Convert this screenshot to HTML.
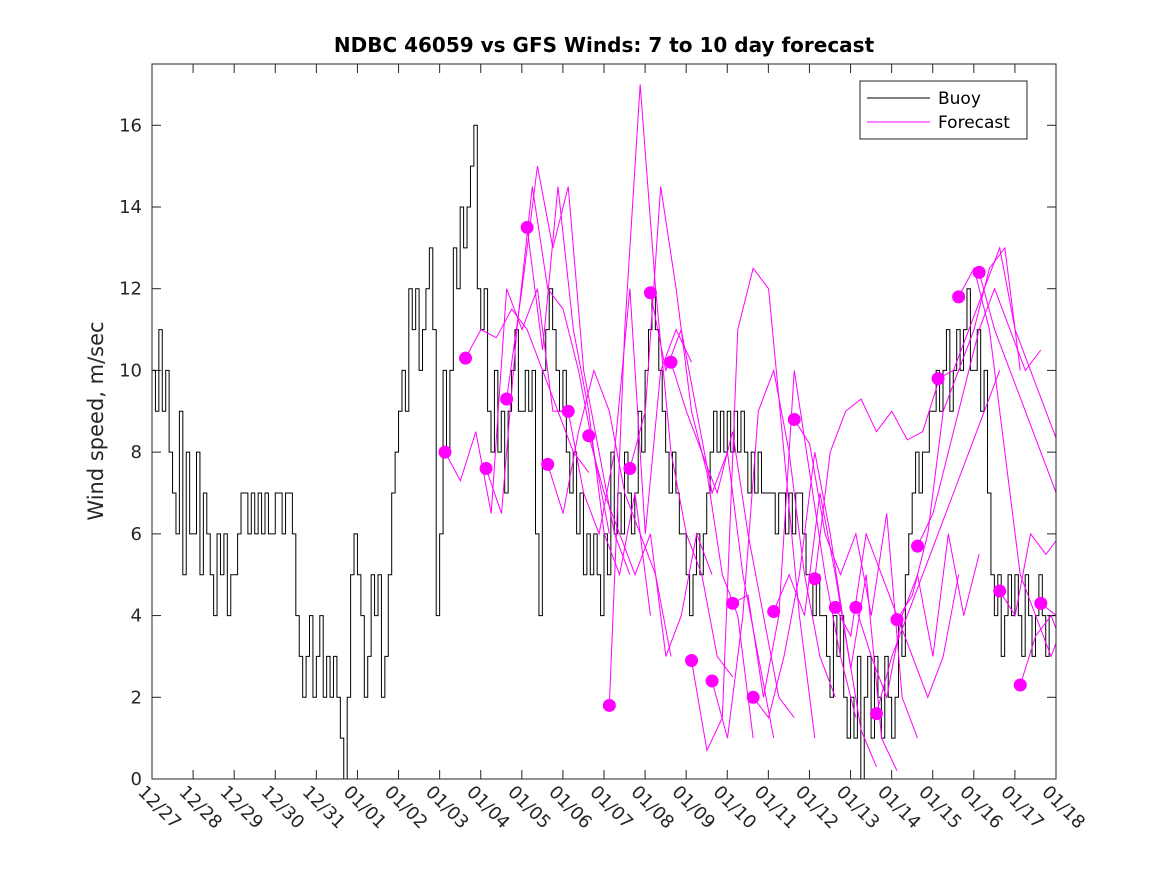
<!DOCTYPE html>
<html><head><meta charset="utf-8"><style>
html,body{margin:0;padding:0;background:#fff;}
svg{display:block;font-family:"DejaVu Sans","Liberation Sans",sans-serif;}
</style></head><body>
<svg id="chart" width="1167" height="875" viewBox="0 0 1167 875">
<defs><clipPath id="clip"><rect x="152" y="64" width="904" height="715"/></clipPath></defs>
<rect x="0" y="0" width="1167" height="875" fill="#fff"/>
<text x="604" y="52" text-anchor="middle" font-size="20" font-weight="bold">NDBC 46059 vs GFS Winds: 7 to 10 day forecast</text>
<text transform="translate(103,421) rotate(-90)" text-anchor="middle" font-size="21" fill="#262626">Wind speed, m/sec</text>
<g id="axes"></g>
<g id="buoy" clip-path="url(#clip)"></g>
<g id="fc" clip-path="url(#clip)"></g>
<rect x="152" y="64" width="904" height="715" fill="none" stroke="#262626" stroke-width="1"/>
<g>
<rect x="860" y="81" width="167" height="58" fill="#fff" stroke="#262626"/>
<line x1="867" y1="98" x2="930" y2="98" stroke="#000"/>
<text x="938" y="104" font-size="17">Buoy</text>
<line x1="867" y1="122" x2="930" y2="122" stroke="#ff00ff"/>
<text x="938" y="128" font-size="17">Forecast</text>
</g>
</svg>
<script>
const dateLabels=["12/27","12/28","12/29","12/30","12/31","01/01","01/02","01/03","01/04","01/05","01/06","01/07","01/08","01/09","01/10","01/11","01/12","01/13","01/14","01/15","01/16","01/17","01/18"];
const yTicks=[0,2,4,6,8,10,12,14,16];
const buoyValues=[
10,9,11,9,10,8,7,6,9,5,8,6,
6,8,5,7,6,5,4,6,5,6,4,5,
5,6,7,7,6,7,6,7,6,7,6,6,
7,7,6,7,7,6,4,3,2,3,4,2,
3,4,2,3,2,3,2,1,0,2,5,6,
5,4,2,3,5,4,5,2,3,5,7,8,
9,10,9,12,11,12,10,11,12,13,11,4,
6,10,8,10,13,12,14,13,14,15,16,12,
11,12,9,8,10,8,9,7,9,10,11,9,
9,10,9,10,6,4,10,11,12,11,10,9,
10,8,7,8,6,7,5,6,5,6,5,4,
6,5,8,6,7,6,8,7,6,7,9,8,
10,11,12,11,10,9,8,7,8,7,6,6,
5,4,5,6,5,6,7,8,9,8,9,8,
9,8,9,8,9,8,7,8,7,8,7,7,
7,7,6,7,7,6,7,6,7,7,6,5,
5,4,5,4,4,3,2,4,3,4,2,1,
2,1,3,0,2,3,1,3,2,1,3,2,
1,2,4,3,5,6,7,8,7,8,8,9,
9,10,9,10,11,9,10,11,10,11,12,10,
10,11,9,10,7,5,4,5,3,4,5,4,
5,4,3,5,4,3,4,5,4,3,4,4];
const fcStartDay=7.13;
const fcStepDays=0.5;
const fcDotValues=[8.0,10.3,7.6,9.3,13.5,7.7,9.0,8.4,1.8,7.6,11.9,10.2,2.9,2.4,4.3,2.0,4.1,8.8,4.9,4.2,4.2,1.6,3.9,5.7,9.8,11.8,12.4,4.6,2.3,4.3];
const fc0=[8,7.3,8.5,6.5,12,11,12,9,9];
const fc1=[10.3,11,10.8,11.5,11,10,9,8,7.5];
const fc2=[7.6,6.5,11,14.5,12,11.5,10,8,6];
const fc3=[9.3,12,15,13,14.5,10,8,6,5];
const fc4=[13.5,10.5,14.5,11,9,6,5,7,4];
const fc5=[7.7,6.5,8.5,10,9,7,6,5,3];
const fc6=[9,7,6,8,12,6,10,11,10.2];
const fc7=[8.4,7,6,5,6,3,4,6,5];
const fc8=[1.8,11,17,12,8,6,5,3,2.5];
const fc9=[7.6,9,14.5,12,9,7.5,5,4,1];
const fc10=[11.9,10,11,9,7,8,5,3,1];
const fc11=[10.2,9,8,7,8.5,6,4,2,1.5];
const fc12=[2.9,0.7,1.5,11,12.5,12,8,4,1];
const fc13=[2.4,1,4,9,10,8,5,3,2];
const fc14=[4.3,4.5,2,4,10,7.5,5,3,1.5];
const fc15=[2,1.5,3,5,8,6,3.5,1.2,0.3];
const fc16=[4.1,5,4,7,5,2.7,5,1,0.2];
const fc17=[8.8,8.2,6,5,6,4,6.5,2,1];
const fc18=[4.9,8,9,9.3,8.5,9,8.3,8.5,9.7];
const fc19=[4.2,3.5,6,5,4,3,2,3,5];
const fc20=[4.2,3,2,4,5,3,6,4,5.5];
const fc21=[1.6,3,4,5,6,7,8,9,10];
const fc22=[3.9,4.5,6,9,10,11,12.5,13,10];
const fc23=[5.7,6.5,8,9.5,11,12,11,10,10.5];
const fc24=[9.8,10,11,12,13,11,10,9,8];
const fc25=[11.8,12.5,11,8,5,4,3,4,3];
const fc26=[12.4,11,10,9,8,7,5,4,3.5];
const fc27=[4.6,4,6,5.5,6,7,6,5,4];
const fc28=[2.3,3.5,4,3,2,1,0.8,1.5,2];
const fc29=[4.3,4,5,3,4,3,2,3,2];
const fcSeries=[fc0,fc1,fc2,fc3,fc4,fc5,fc6,fc7,fc8,fc9,fc10,fc11,fc12,fc13,fc14,fc15,fc16,fc17,fc18,fc19,fc20,fc21,fc22,fc23,fc24,fc25,fc26,fc27,fc28,fc29];

const X0=152,X1=1056,Y0=779,Y1=64,DAYS=22,YMAX=17.5,PER_DAY=12;
const xs=d=>X0+(X1-X0)*d/DAYS;
const ys=v=>Y0-(Y0-Y1)*v/YMAX;
const NS="http://www.w3.org/2000/svg";
function mk(tag,attrs,parent){const e=document.createElementNS(NS,tag);for(const k in attrs)e.setAttribute(k,attrs[k]);parent.appendChild(e);return e;}
const axes=document.getElementById('axes');
dateLabels.forEach((lab,i)=>{
  const x=xs(i);
  const t1=mk('line',{x1:x,y1:Y0,x2:x,y2:Y0-9,stroke:'#262626'},axes);
  
  
  const t2=mk('line',{x1:x,y1:Y1,x2:x,y2:Y1+9,stroke:'#262626'},axes);
  
  
  const tx=mk('text',{x:x-15,y:Y0+14,'font-size':18,transform:`rotate(45 ${x-15} ${Y0+14})`,fill:'#262626'},axes);
  tx.textContent=lab;
  
  
});
yTicks.forEach(v=>{
  const y=ys(v);
  const a=mk('line',{x1:X0,y1:y,x2:X0+9,y2:y,stroke:'#262626'},axes);
  
  
  const b=mk('line',{x1:X1,y1:y,x2:X1-9,y2:y,stroke:'#262626'},axes);
  
  
  const t=mk('text',{x:X0-10,y:y+6,'font-size':18,'text-anchor':'end',fill:'#262626'},axes);
  t.textContent=v;
  
  
});
let d='';
const step=1/PER_DAY;
buoyValues.forEach((v,i)=>{
  const xa=xs(i*step),xb=xs((i+1)*step),y=ys(v);
  d+=(i===0?`M${xa},${y}`:`V${y}`)+`H${xb}`;
});
const bp=mk('path',{d:d,fill:'none',stroke:'#000','stroke-width':1},document.getElementById('buoy'));


const fg=document.getElementById('fc');
fcSeries.forEach((s,k)=>{
  const start=fcStartDay+k*fcStepDays;
  const pts=s.map((v,j)=>`${xs(start+j*3/(s.length-1))},${ys(v)}`).join(' ');
  const pl=mk('polyline',{points:pts,fill:'none',stroke:'#ff00ff','stroke-width':1},fg);
  
  
});
fcDotValues.forEach((v,k)=>{
  const c=mk('circle',{cx:xs(fcStartDay+k*fcStepDays),cy:ys(v),r:6.5,fill:'#ff00ff'},fg);
  
  
});
</script>
</body></html>
